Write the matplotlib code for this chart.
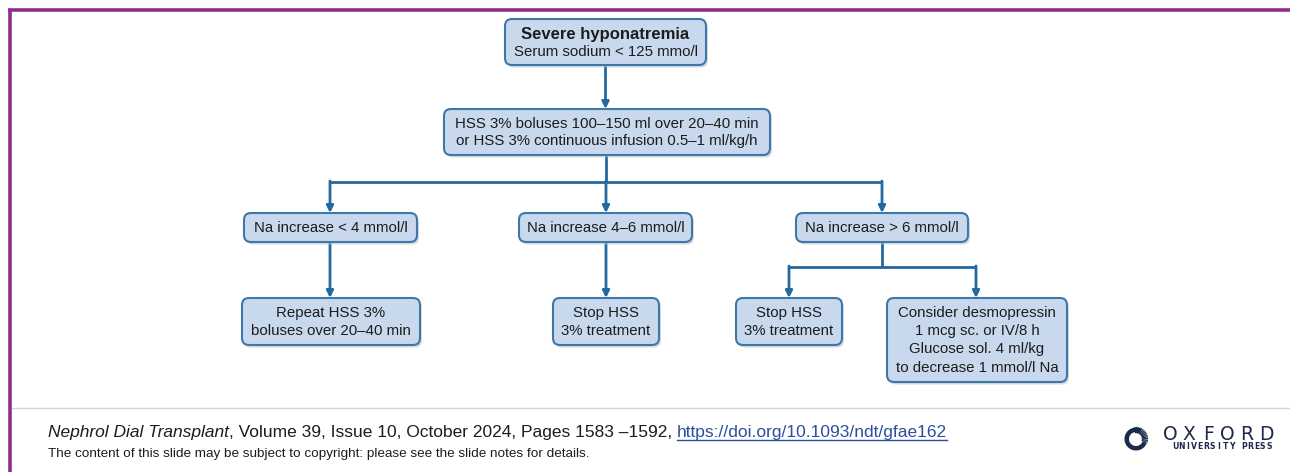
import matplotlib
matplotlib.use("Agg")
import matplotlib.pyplot as plt
from matplotlib.patches import FancyBboxPatch, Wedge
import numpy as np

# ---- content (flowchart texts) ----
title_bold = "Severe hyponatremia"
title_sub = "Serum sodium < 125 mmo/l"
step2 = ["HSS 3% boluses 100\u2013150 ml over 20\u201340 min",
         "or HSS 3% continuous infusion 0.5\u20131 ml/kg/h"]
level3 = ["Na increase < 4 mmol/l", "Na increase 4\u20136 mmol/l", "Na increase > 6 mmol/l"]
level4 = [["Repeat HSS 3%", "boluses over 20\u201340 min"],
          ["Stop HSS", "3% treatment"],
          ["Stop HSS", "3% treatment"],
          ["Consider desmopressin", "1 mcg sc. or IV/8 h", "Glucose sol. 4 ml/kg",
           "to decrease 1 mmol/l Na"]]
cite_journal = "Nephrol Dial Transplant"
cite_rest = ", Volume 39, Issue 10, October 2024, Pages 1583 \u20131592, "
cite_url = "https://doi.org/10.1093/ndt/gfae162"
copyright_note = "The content of this slide may be subject to copyright: please see the slide notes for details."
logo_word = "OXFORD"
logo_sub = "UNIVERSITY PRESS"

W, H = 1290, 472
fig = plt.figure(figsize=(W / 100, H / 100), dpi=100)
ax = fig.add_axes([0, 0, 1, 1])
ax.set_xlim(0, W)
ax.set_ylim(H, 0)
ax.axis("off")

FONT = "Liberation Sans"
TXT = "#1c1c1c"
FILL = "#c8d9ee"
EDGE = "#3f78a8"
LINE = "#2369a0"
FS = 10.8

def box(x0, y0, x1, y1):
    sh = FancyBboxPatch((x0 + 2, y0 + 2.5), x1 - x0, y1 - y0,
                        boxstyle="round,pad=0,rounding_size=7",
                        fc="#b9bec4", ec="none", alpha=0.55, zorder=2)
    ax.add_patch(sh)
    p = FancyBboxPatch((x0, y0), x1 - x0, y1 - y0,
                       boxstyle="round,pad=0,rounding_size=7",
                       fc=FILL, ec=EDGE, lw=1.5, zorder=3)
    ax.add_patch(p)

def lines_text(cx, cy, lines, spacing=18, fs=FS):
    n = len(lines)
    for i, t in enumerate(lines):
        y = cy + (i - (n - 1) / 2) * spacing
        ax.text(cx, y, t, ha="center", va="center", fontsize=fs,
                family=FONT, color=TXT, zorder=4)

def seg(xs, ys):
    ax.plot(xs, ys, color=LINE, lw=2.0, solid_capstyle="butt", zorder=1)

def arrow(x, y0, y1):
    ax.annotate("", xy=(x, y1), xytext=(x, y0),
                arrowprops=dict(arrowstyle="-|>,head_length=0.4,head_width=0.2",
                                color=LINE, lw=2.0, shrinkA=0, shrinkB=0),
                zorder=1)

# ---- top box ----
box(505, 19, 706, 65)
ax.text(605.5, 34, title_bold, ha="center", va="center", fontsize=12,
        fontweight="bold", family=FONT, color=TXT, zorder=4)
ax.text(605.5, 52, title_sub, ha="center", va="center", fontsize=FS,
        family=FONT, color=TXT, zorder=4)
arrow(605.5, 65, 109)

# ---- second box ----
box(444, 109, 770, 155)
lines_text(607, 132.5, step2)
seg([606, 606], [155, 182])
seg([329, 882], [182, 182])

# ---- level 3 ----
l3_boxes = [(244, 417), (519, 692), (796, 968)]
l3_cx = [330, 606, 882]
for (x0, x1), cx, t in zip(l3_boxes, l3_cx, level3):
    arrow(cx, 181, 213)
    box(x0, 213, x1, 242)
    lines_text((x0 + x1) / 2, 227.5, [t])

# ---- level 4 ----
arrow(330, 242, 298)
arrow(606, 242, 298)
seg([882, 882], [242, 267])
seg([789, 976], [267, 267])
arrow(789, 266, 298)
arrow(976, 266, 298)

l4_boxes = [(242, 298, 420, 345), (553, 298, 659, 345),
            (736, 298, 842, 345), (887, 298, 1067, 382)]
for (x0, y0, x1, y1), lines in zip(l4_boxes, level4):
    box(x0, y0, x1, y1)
    lines_text((x0 + x1) / 2, (y0 + y1) / 2 + 0.5, lines)

# ---- frame ----
PURPLE = "#8f2d8e"
ax.plot([8, W], [10, 10], color=PURPLE, lw=2.6, solid_capstyle="butt", zorder=5)
ax.plot([9.5, 9.5], [9, H], color=PURPLE, lw=2.6, solid_capstyle="butt", zorder=5)
ax.plot([12, W], [408, 408], color="#c9d6e6", lw=1.0, zorder=5)

# ---- footer citation ----
fig.canvas.draw()
r = fig.canvas.get_renderer()
inv = ax.transData.inverted()

def right_edge(t):
    return inv.transform((t.get_window_extent(r).x1, 0))[0]

x = 48
y = 432
FS_F = 12.5
t1 = ax.text(x, y, cite_journal, ha="left", va="center", fontsize=FS_F,
             style="italic", family=FONT, color=TXT)
x = right_edge(t1)
t2 = ax.text(x, y, cite_rest, ha="left", va="center", fontsize=FS_F,
             family=FONT, color=TXT)
x = right_edge(t2)
t3 = ax.text(x, y, cite_url, ha="left", va="center", fontsize=FS_F,
             family=FONT, color="#2b4f9c")
xe = right_edge(t3)
ax.plot([x, xe], [y + 8, y + 8], color="#2b4f9c", lw=1.0)

ax.text(48, 454, copyright_note, ha="left", va="center", fontsize=9.7,
        family=FONT, color=TXT)

# ---- Oxford logo ----
NAVY = "#1b2a48"
cx, cy = 1136, 439
ax.add_patch(Wedge((cx, cy), 11.5, 20, 300, width=4.5, fc=NAVY, ec="none"))
for a in np.linspace(-95, 15, 14):
    ar = np.deg2rad(a)
    ax.plot([cx + 6.5 * np.cos(ar), cx + 11.5 * np.cos(ar)],
            [cy + 6.5 * np.sin(ar), cy + 11.5 * np.sin(ar)],
            color=NAVY, lw=0.9)

def spaced(text, x0, x1, yy, fs, weight):
    n = len(text)
    xs = np.linspace(x0, x1, n)
    for ch, xx in zip(text, xs):
        ax.text(xx, yy, ch, ha="center", va="center", fontsize=fs,
                family="DejaVu Sans", fontweight=weight, color=NAVY)

spaced(logo_word, 1170, 1266, 435, 13.5, "normal")
spaced(logo_sub, 1175, 1269, 446.5, 5.6, "bold")

fig.savefig("out.png", dpi=100, facecolor="white")
